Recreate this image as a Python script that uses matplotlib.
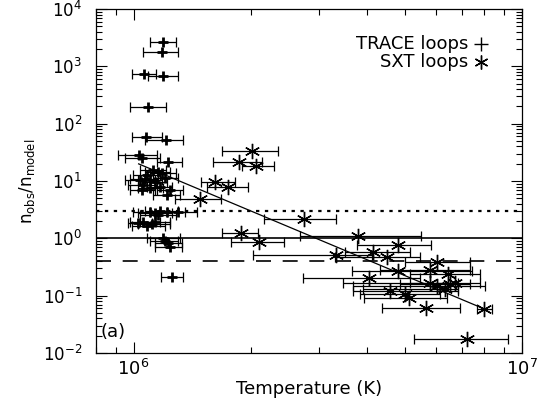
import numpy as np
import matplotlib
matplotlib.use('Agg')
import matplotlib.pyplot as plt
from matplotlib.ticker import LogLocator, NullFormatter, FixedLocator

# TRACE loops: temperature (1e6 K), error range, density ratio
trace_T   = [1.188, 1.181, 1.061, 1.188, 1.087, 1.074, 1.209, 1.030, 1.049, 1.224,
             1.119, 1.153, 1.181, 1.080, 1.100, 1.133, 1.067, 1.202, 1.167, 1.055,
             1.036, 1.238, 1.216, 1.049, 1.100, 1.100, 1.133, 1.167, 1.216, 1.298,
             1.153, 1.024, 1.055, 1.113, 1.133, 1.080, 1.188, 1.224, 1.238, 1.202, 1.253]
trace_Tlo = [1.100, 1.055, 0.988, 1.087, 0.977, 0.988, 1.067, 0.910, 0.948, 1.146,
             1.036, 1.067, 1.100, 0.994, 1.024, 1.049, 0.977, 1.119, 1.080, 0.965,
             0.948, 1.146, 1.119, 0.977, 1.024, 0.994, 1.024, 1.067, 1.100, 1.167,
             1.036, 0.965, 0.977, 1.024, 1.036, 0.988, 1.080, 1.133, 1.133, 1.100, 1.174]
trace_Thi = [1.283, 1.298, 1.139, 1.298, 1.209, 1.181, 1.337, 1.146, 1.167, 1.329,
             1.209, 1.238, 1.283, 1.167, 1.181, 1.216, 1.153, 1.298, 1.253, 1.146,
             1.133, 1.337, 1.314, 1.133, 1.188, 1.216, 1.253, 1.298, 1.353, 1.453,
             1.283, 1.113, 1.167, 1.238, 1.238, 1.202, 1.314, 1.329, 1.329, 1.298, 1.337]
trace_n   = [2640, 1760, 724, 668, 199, 59, 52, 28.6, 25.3, 21.5,
             15.6, 14.4, 13.8, 12.7, 10.4, 9.6, 10.8, 11.3, 7.85, 8.5,
             10.4, 6.95, 5.7, 6.95, 7.5, 2.86, 2.75, 2.98, 2.86, 2.86,
             2.53, 1.83, 1.91, 1.76, 1.91, 1.62, 1.0, 0.817, 0.695, 0.886, 0.215]

# SXT loops
sxt_T   = [2.014, 1.865, 2.063, 1.618, 1.747, 1.479, 2.743, 1.887, 2.100, 3.778,
           4.791, 3.316, 4.130, 4.488, 6.040, 4.791, 5.795, 4.033, 6.447, 5.795,
           6.040, 6.334, 6.524, 6.720, 4.569, 5.115, 4.995, 5.658, 7.982, 7.214]
sxt_Tlo = [1.686, 1.598, 1.898, 1.488, 1.542, 1.276, 2.163, 1.686, 1.778, 2.679,
           3.756, 2.026, 3.499, 3.296, 4.995, 3.647, 4.305, 2.727, 5.145, 3.457,
           3.668, 3.892, 4.849, 5.145, 3.668, 3.915, 3.823, 4.357, 7.656, 5.269]
sxt_Thi = [2.351, 2.138, 2.296, 1.821, 1.967, 1.676, 3.316, 2.087, 2.436, 5.493,
           5.829, 4.105, 5.145, 5.460, 7.345, 7.432, 7.345, 5.460, 7.795, 6.840,
           8.029, 6.840, 7.345, 7.795, 6.840, 6.410, 6.149, 6.921, 8.369, 9.203]
sxt_n   = [33.6, 21.5, 18.3, 9.6, 7.85, 4.83, 2.15, 1.22, 0.85, 1.08,
           0.754, 0.503, 0.568, 0.464, 0.379, 0.264, 0.275, 0.207, 0.243, 0.169,
           0.150, 0.133, 0.162, 0.169, 0.122, 0.092, 0.108, 0.0616, 0.059, 0.0176]

# fit line end points
fit_T = [1.030, 7.982]
fit_n = [19.9, 0.059]

# reference levels
lvl_solid, lvl_dot, lvl_dash = 1.0, 3.0, 0.4

def to_K(a):
    return np.array(a) * 1e6

fig = plt.figure(figsize=(5.4, 4.08), dpi=100)
ax = fig.add_axes([96/540, 1-353/408, 426/540, 344/408])

tT = to_K(trace_T)
terr = [tT - to_K(trace_Tlo), to_K(trace_Thi) - tT]
ax.errorbar(tT, trace_n, xerr=terr, fmt='none', ecolor='k', elinewidth=0.9,
            capsize=3.5, capthick=0.9)
ax.plot(tT, trace_n, '+', color='k', ms=7, mew=2)

sT = to_K(sxt_T)
serr = [sT - to_K(sxt_Tlo), to_K(sxt_Thi) - sT]
ax.errorbar(sT, sxt_n, xerr=serr, fmt='none', ecolor='k', elinewidth=0.9,
            capsize=3.5, capthick=0.9)
ax.plot(sT, sxt_n, marker=(6, 2, 0), ls='none', color='k', ms=11, mew=1)

ax.plot(to_K(fit_T), fit_n, 'k-', lw=0.9)

ax.axhline(lvl_solid, color='k', lw=1.2)
ax.axhline(lvl_dot, color='k', lw=1.6, ls=(0, (1.5, 2.5)))
ax.axhline(lvl_dash, color='k', lw=1.2, ls=(0, (9, 7)))

ax.set_xscale('log')
ax.set_yscale('log')
ax.set_xlim(8e5, 1e7)
ax.set_ylim(1e-2, 1e4)

ax.xaxis.set_major_locator(FixedLocator([1e6, 1e7]))
ax.xaxis.set_minor_locator(LogLocator(base=10, subs=np.arange(2, 10)))
ax.xaxis.set_minor_formatter(NullFormatter())
ax.yaxis.set_major_locator(FixedLocator([1e-2, 1e-1, 1e0, 1e1, 1e2, 1e3, 1e4]))
ax.yaxis.set_minor_locator(LogLocator(base=10, subs=np.arange(2, 10), numticks=10))
ax.yaxis.set_minor_formatter(NullFormatter())
ax.tick_params(which='both', direction='in', top=True, right=True, width=0.8)
ax.tick_params(which='major', length=8)
ax.tick_params(which='minor', length=4)
ax.tick_params(axis='y', labelsize=12, pad=10)
ax.tick_params(axis='x', labelsize=13, pad=4)
for s in ax.spines.values():
    s.set_linewidth(0.9)

ax.set_xlabel('Temperature (K)', fontsize=13, labelpad=1)
ax.set_ylabel(r'n$_{\rm obs}$/n$_{\rm model}$', fontsize=12, labelpad=4)

ax.text(0.873, 0.898, 'TRACE loops', transform=ax.transAxes, ha='right', va='center', fontsize=13)
ax.text(0.873, 0.846, 'SXT loops', transform=ax.transAxes, ha='right', va='center', fontsize=13)
ax.plot([0.903], [0.898], '+', color='k', ms=10, mew=1, transform=ax.transAxes)
ax.plot([0.903], [0.846], marker=(6, 2, 0), color='k', ms=10, mew=1, transform=ax.transAxes)
ax.text(0.01, 0.06, '(a)', transform=ax.transAxes, ha='left', va='center', fontsize=13)

fig.savefig('out.png', dpi=100)
